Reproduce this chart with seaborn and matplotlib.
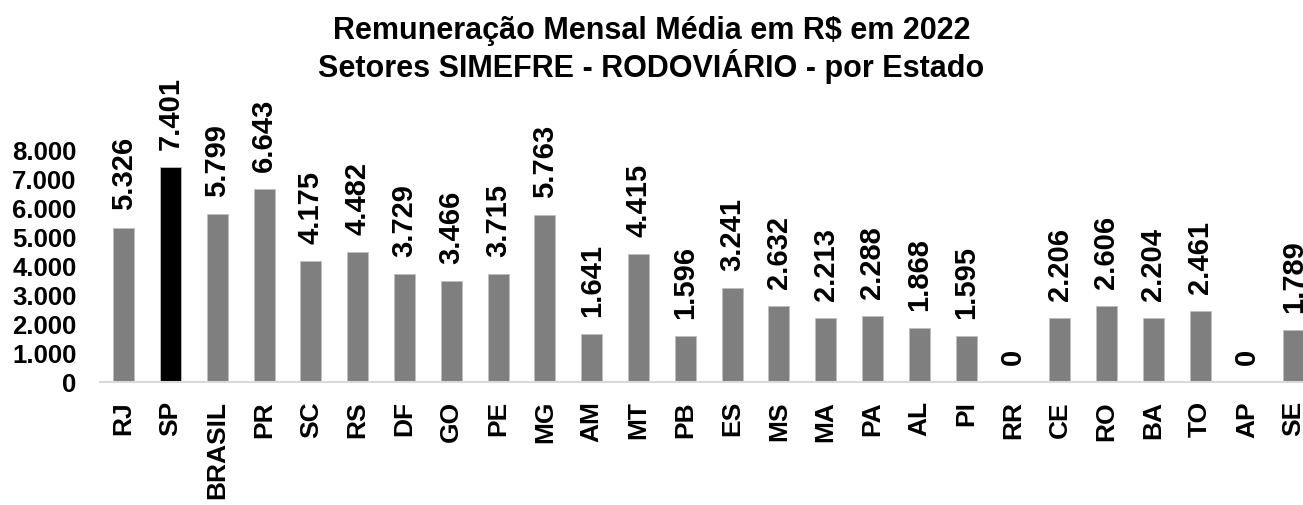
import pandas as pd
import seaborn as sns
import matplotlib.pyplot as plt
from matplotlib.ticker import FuncFormatter

# dados
estados = ['RJ', 'SP', 'BRASIL', 'PR', 'SC', 'RS', 'DF', 'GO', 'PE', 'MG', 'AM', 'MT', 'PB',
           'ES', 'MS', 'MA', 'PA', 'AL', 'PI', 'RR', 'CE', 'RO', 'BA', 'TO', 'AP', 'SE']
remuneracao = [5326, 7401, 5799, 6643, 4175, 4482, 3729, 3466, 3715, 5763, 1641, 4415, 1596,
               3241, 2632, 2213, 2288, 1868, 1595, 0, 2206, 2606, 2204, 2461, 0, 1789]
destaque = 'SP'

df = pd.DataFrame({'Estado': estados, 'Remuneracao': remuneracao})
cores = {e: ('#000000' if e == destaque else '#7f7f7f') for e in estados}

sns.set_theme(style="white")
plt.rcParams['font.family'] = ['Liberation Sans', 'DejaVu Sans']
plt.rcParams['font.weight'] = 'bold'
plt.rcParams['text.color'] = 'black'
plt.rcParams['xtick.color'] = 'black'
plt.rcParams['ytick.color'] = 'black'


def milhar(v, pos=None):
    return f"{v:,.0f}".replace(',', '.')


fig = plt.figure(figsize=(13.03, 5.06), dpi=100)
ax = fig.add_axes([0.077, 0.2431, 0.923, 0.4585])

sns.barplot(data=df, x='Estado', y='Remuneracao', hue='Estado', palette=cores,
            width=0.45, legend=False, edgecolor='#bfbfbf', linewidth=0.6, ax=ax)

for cont in ax.containers:
    ax.bar_label(cont, labels=[milhar(b.get_height()) for b in cont],
                 rotation=90, padding=13, fontsize=21, fontweight='bold', color='black')

ax.set_ylim(0, 8000)
ax.set_xlim(-0.5, 25.2)
ax.set_yticks(range(0, 8001, 1000))
ax.yaxis.set_major_formatter(FuncFormatter(milhar))
ax.tick_params(axis='y', labelsize=18.5, pad=17, length=0, labelcolor='black')
ax.tick_params(axis='x', labelsize=19, pad=13, length=0, labelrotation=90, labelcolor='black')
for lbl in ax.get_xticklabels() + ax.get_yticklabels():
    lbl.set_fontweight('bold')

ax.set_xlabel('')
ax.set_ylabel('')
for s in ['top', 'right', 'left']:
    ax.spines[s].set_visible(False)
ax.spines['bottom'].set_color('#d9d9d9')
ax.spines['bottom'].set_linewidth(1.5)

fig.text(0.5, 1 - 16 / 506,
         'Remuneração Mensal Média em R$ em 2022\nSetores SIMEFRE - RODOVIÁRIO - por Estado',
         ha='center', va='top', fontsize=22, fontweight='bold', linespacing=1.12,
         color='black')

plt.savefig('out.png', dpi=100)
